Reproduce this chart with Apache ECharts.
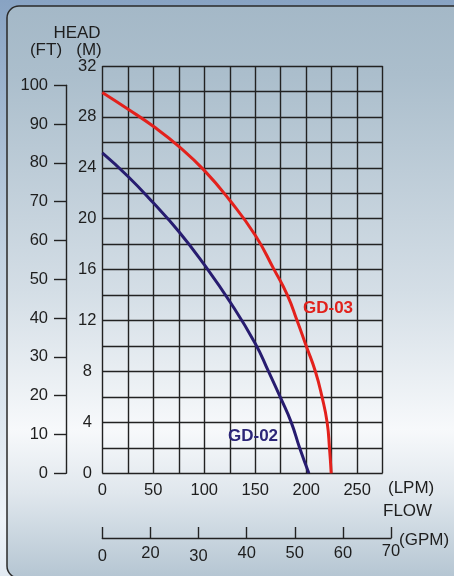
<!DOCTYPE html>
<html><head><meta charset="utf-8">
<script src="https://cdn.jsdelivr.net/npm/echarts@6/dist/echarts.min.js"></script>
<style>html,body{margin:0;padding:0;width:454px;height:576px;overflow:hidden;}#c{width:454px;height:576px;}</style>
</head><body><div id="c"></div>
<script>
// ---- data ----
const lpmMin = 0, lpmMax = 275, lpmStep = 25, lpmLabelStep = 50;
const headMMin = 0, headMMax = 32, headMStep = 2, headMLabelStep = 4;
const headFtMin = 0, headFtMax = 100, headFtStep = 10;
const gpmLabels = ['0', '20', '30', '40', '50', '60', '70'];
const seriesNames = ['GD-03', 'GD-02'];
// [flow LPM, head M]
const gd03 = [[0,29.92],[25,28.62],[50,27.26],[75,25.69],[100,23.8],[125,21.45],[150,18.7],[168.5,16],[181.5,14],[191,12],[200,10],[209,8],[215.5,6],[220.5,4],[222.8,2],[224.5,0]];
const gd02 = [[0,25.17],[25,23.34],[50,21.25],[75,19.0],[100,16.39],[125,13.5],[150,10.2],[163,8],[175,5.9],[185.3,4],[193.5,2],[202.6,0]];

const FONT = '"Liberation Sans", Arial, sans-serif';
const TXT = '#1e1e1e';
const LINE = '#222222';

const chart = echarts.init(document.getElementById('c'), null, {renderer: 'canvas'});

function txt(text, x, y, align, size, color, weight) {
  return {
    type: 'text', x: x, y: y, z: 50,
    style: {
      text: text, fill: color || TXT, textAlign: align || 'left', textVerticalAlign: 'middle',
      font: (weight || 'normal') + ' ' + (size || 17) + 'px ' + FONT
    }
  };
}

const gpmStyleKey = ['d','b','d','b','b','b','u'];

const option = {
  animation: false,
  backgroundColor: {
    type: 'linear', x: 0, y: 0, x2: 0, y2: 1,
    colorStops: [
      {offset: 0, color: '#88a3c3'},
      {offset: 0.45, color: '#c3d3e2'},
      {offset: 0.9, color: '#eef3f8'},
      {offset: 1, color: '#e2eaf2'}
    ]
  },
  graphic: [
    {
      type: 'rect', z: -10, silent: true,
      shape: {x: 7, y: 6, width: 480, height: 572, r: 12},
      style: {
        fill: {
          type: 'linear', x: 0, y: 0, x2: 0, y2: 1,
          colorStops: [
            {offset: 0, color: '#a4b8c7'},
            {offset: 0.12, color: '#abbecc'},
            {offset: 0.5, color: '#d4dee6'},
            {offset: 0.74, color: '#f7f9fb'},
            {offset: 0.85, color: '#e0e7ed'},
            {offset: 1, color: '#b4c5d2'}
          ]
        },
        stroke: '#2a2a2a', lineWidth: 1.5
      }
    },
    txt('HEAD', 77, 33, 'center', 17),
    txt('(FT)', 46, 50, 'center', 17),
    txt('(M)', 89, 50, 'center', 17),
    txt('(LPM)', 388, 488, 'left', 17),
    txt('FLOW', 383, 511, 'left', 17),
    txt('(GPM)', 399, 540, 'left', 17),
    txt(seriesNames[0], 303, 308, 'left', 17, '#e1221c', 'bold'),
    txt(seriesNames[1], 228, 436, 'left', 17, '#2c2678', 'bold')
  ],
  grid: [
    {left: 102.3, top: 66, width: 280.4, height: 407.3},
    {left: 66, top: 85.3, width: 1, height: 388},
    {left: 102.3, top: 527, width: 288.7, height: 11}
  ],
  xAxis: [
    {
      gridIndex: 0, type: 'value', min: lpmMin, max: lpmMax, interval: lpmStep,
      axisLine: {show: false}, axisTick: {show: false},
      splitLine: {show: true, lineStyle: {color: LINE, width: 1.4}},
      axisLabel: {
        margin: 9, color: TXT, fontSize: 16.5, fontFamily: FONT,
        formatter: v => (v % lpmLabelStep === 0 ? String(v) : '')
      }
    },
    {gridIndex: 1, type: 'value', show: false},
    {
      gridIndex: 2, type: 'category', data: gpmLabels, boundaryGap: false, position: 'bottom',
      axisLine: {show: true, lineStyle: {color: LINE, width: 1.4}},
      axisTick: {show: true, inside: true, length: 11, interval: 0, lineStyle: {color: LINE, width: 1.4}},
      splitLine: {show: false},
      axisLabel: {
        interval: 0, margin: 5, color: TXT, fontSize: 16.5, fontFamily: FONT,
        formatter: (v, i) => '{' + gpmStyleKey[i] + '|' + v + '}',
        rich: {
          u: {fontSize: 16.5, fontFamily: FONT, color: TXT, padding: [0, 0, 0, 0]},
          b: {fontSize: 16.5, fontFamily: FONT, color: TXT, padding: [2, 0, 0, 0]},
          d: {fontSize: 16.5, fontFamily: FONT, color: TXT, padding: [5, 0, 0, 0]}
        }
      }
    }
  ],
  yAxis: [
    {
      gridIndex: 0, type: 'value', min: headMMin, max: headMMax, interval: headMStep,
      axisLine: {show: false}, axisTick: {show: false},
      splitLine: {show: true, lineStyle: {color: LINE, width: 1.4}},
      axisLabel: {
        margin: 15, align: 'center', color: TXT, fontSize: 16.5, fontFamily: FONT,
        formatter: v => (v % headMLabelStep === 0 ? String(v) : '')
      }
    },
    {
      gridIndex: 1, type: 'value', min: headFtMin, max: headFtMax, interval: headFtStep,
      axisLine: {show: true, lineStyle: {color: LINE, width: 1.4}},
      axisTick: {show: true, length: 12, lineStyle: {color: LINE, width: 1.4}},
      splitLine: {show: false},
      axisLabel: {margin: 18, color: TXT, fontSize: 16.5, fontFamily: FONT}
    },
    {gridIndex: 2, type: 'value', show: false}
  ],
  series: [
    {
      name: seriesNames[0], type: 'line', xAxisIndex: 0, yAxisIndex: 0, data: gd03,
      smooth: true, symbol: 'none', z: 5, clip: false,
      lineStyle: {color: '#e3211c', width: 3}
    },
    {
      name: seriesNames[1], type: 'line', xAxisIndex: 0, yAxisIndex: 0, data: gd02,
      smooth: true, symbol: 'none', z: 5, clip: false,
      lineStyle: {color: '#271c70', width: 3}
    }
  ]
};
chart.setOption(option);
</script>
</body></html>
